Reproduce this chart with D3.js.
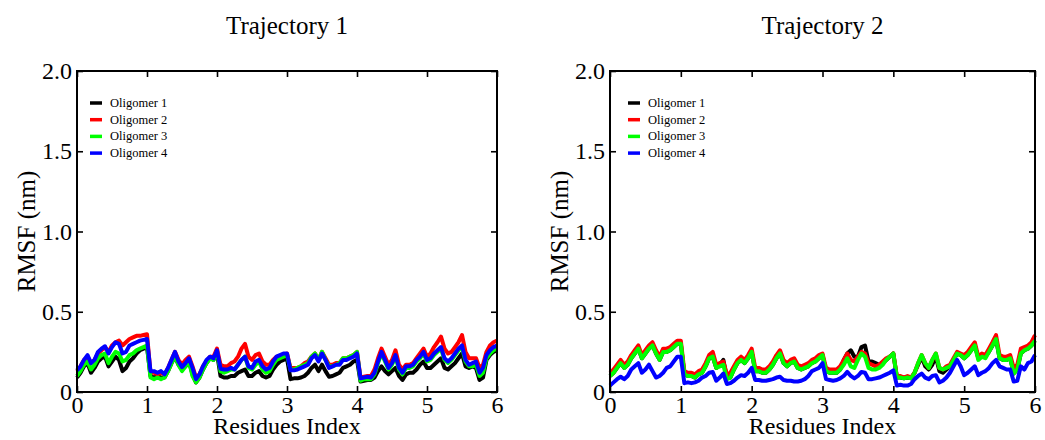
<!DOCTYPE html>
<html>
<head>
<meta charset="utf-8">
<script src="https://cdn.jsdelivr.net/npm/d3@7"></script>
<style>
  body { margin: 0; background: #fff; }
  svg text { font-family: "Liberation Serif", "Times New Roman", serif; fill: #000; }
</style>
</head>
<body>
<div id="chart"></div>
<script>
// Residue index grid (0 .. 6, step 0.05) and tick values
const residues = d3.range(121).map(i => i * 0.05);
const xTicks = [0, 1, 2, 3, 4, 5, 6];
const yTicks = [0, 0.5, 1.0, 1.5, 2.0];
const seriesNames = ["Oligomer 1", "Oligomer 2", "Oligomer 3", "Oligomer 4"];
const seriesColors = ["#000000", "#ff0000", "#00ff00", "#0000ff"];

// Trajectory 1 RMSF (nm)
const traj1Olig1 = [0.09,0.12,0.16,0.18,0.12,0.15,0.19,0.21,0.22,0.16,0.19,0.22,0.20,0.13,0.15,0.19,0.21,0.24,0.26,0.27,0.28,
  0.10,0.09,0.10,0.09,0.09,0.13,0.18,0.22,0.17,0.14,0.16,0.19,0.11,0.06,0.09,0.14,0.18,0.21,0.20,0.24,
  0.10,0.09,0.09,0.10,0.10,0.12,0.13,0.14,0.10,0.10,0.12,0.13,0.10,0.09,0.10,0.14,0.17,0.19,0.20,0.21,
  0.08,0.085,0.085,0.09,0.10,0.12,0.15,0.17,0.13,0.17,0.13,0.095,0.10,0.11,0.12,0.15,0.16,0.17,0.19,0.20,
  0.065,0.07,0.075,0.075,0.09,0.13,0.16,0.13,0.11,0.13,0.15,0.10,0.075,0.11,0.12,0.12,0.14,0.17,0.19,0.15,
  0.15,0.17,0.19,0.21,0.15,0.14,0.16,0.18,0.21,0.24,0.16,0.15,0.16,0.15,0.075,0.09,0.20,0.23,0.25,0.26];
const traj1Olig2 = [0.13,0.16,0.20,0.22,0.18,0.20,0.24,0.26,0.28,0.25,0.29,0.31,0.32,0.29,0.31,0.33,0.34,0.35,0.35,0.355,0.36,
  0.12,0.12,0.11,0.12,0.11,0.15,0.20,0.25,0.20,0.17,0.20,0.22,0.16,0.09,0.11,0.16,0.19,0.22,0.22,0.27,
  0.17,0.16,0.16,0.18,0.19,0.22,0.27,0.30,0.22,0.20,0.23,0.24,0.19,0.17,0.17,0.20,0.22,0.22,0.23,0.24,
  0.15,0.15,0.15,0.16,0.18,0.19,0.22,0.24,0.20,0.25,0.21,0.17,0.17,0.18,0.18,0.21,0.21,0.22,0.23,0.25,
  0.09,0.095,0.10,0.10,0.14,0.21,0.27,0.22,0.17,0.20,0.26,0.17,0.14,0.17,0.17,0.18,0.21,0.24,0.27,0.22,
  0.24,0.28,0.31,0.345,0.27,0.24,0.25,0.28,0.31,0.355,0.25,0.21,0.21,0.21,0.15,0.17,0.25,0.29,0.31,0.32];
const traj1Olig3 = [0.10,0.13,0.17,0.19,0.14,0.17,0.21,0.23,0.24,0.18,0.22,0.25,0.24,0.19,0.20,0.23,0.24,0.26,0.27,0.28,0.29,
  0.09,0.08,0.09,0.08,0.09,0.13,0.18,0.22,0.17,0.13,0.16,0.19,0.10,0.06,0.09,0.14,0.18,0.21,0.20,0.25,
  0.13,0.12,0.13,0.14,0.14,0.17,0.20,0.22,0.15,0.14,0.17,0.19,0.14,0.12,0.13,0.17,0.20,0.21,0.22,0.23,
  0.14,0.14,0.15,0.16,0.17,0.18,0.22,0.24,0.20,0.25,0.20,0.16,0.16,0.17,0.18,0.21,0.21,0.22,0.23,0.25,
  0.07,0.08,0.08,0.08,0.11,0.18,0.24,0.19,0.14,0.17,0.22,0.14,0.11,0.15,0.15,0.16,0.19,0.21,0.24,0.19,
  0.20,0.23,0.25,0.27,0.20,0.18,0.20,0.23,0.26,0.28,0.19,0.16,0.16,0.17,0.10,0.12,0.21,0.24,0.26,0.27];
const traj1Olig4 = [0.135,0.16,0.20,0.23,0.18,0.20,0.25,0.27,0.285,0.24,0.28,0.31,0.30,0.24,0.25,0.29,0.30,0.31,0.32,0.325,0.33,
  0.13,0.13,0.12,0.13,0.11,0.15,0.20,0.25,0.19,0.155,0.18,0.21,0.15,0.08,0.11,0.16,0.20,0.22,0.21,0.26,
  0.145,0.14,0.14,0.15,0.14,0.17,0.20,0.22,0.16,0.15,0.19,0.20,0.16,0.14,0.15,0.19,0.22,0.23,0.24,0.24,
  0.135,0.135,0.14,0.15,0.16,0.17,0.21,0.23,0.19,0.24,0.20,0.15,0.16,0.17,0.17,0.20,0.20,0.21,0.22,0.24,
  0.085,0.09,0.095,0.09,0.12,0.19,0.25,0.20,0.15,0.18,0.23,0.15,0.12,0.16,0.16,0.17,0.20,0.22,0.25,0.20,
  0.21,0.24,0.26,0.28,0.21,0.19,0.21,0.24,0.27,0.29,0.20,0.17,0.18,0.19,0.12,0.15,0.23,0.26,0.28,0.29];

// Trajectory 2 RMSF (nm)
const traj2Olig1 = [0.10,0.12,0.15,0.18,0.15,0.17,0.21,0.24,0.27,0.21,0.24,0.27,0.29,0.24,0.20,0.25,0.25,0.26,0.28,0.30,0.30,
  0.11,0.10,0.10,0.09,0.11,0.12,0.16,0.21,0.22,0.15,0.17,0.20,0.09,0.09,0.14,0.18,0.20,0.18,0.21,0.25,
  0.13,0.13,0.12,0.12,0.14,0.17,0.21,0.24,0.18,0.16,0.18,0.19,0.15,0.14,0.15,0.16,0.18,0.19,0.21,0.23,
  0.13,0.12,0.12,0.12,0.14,0.20,0.24,0.26,0.22,0.22,0.28,0.29,0.19,0.19,0.18,0.17,0.18,0.20,0.22,0.24,
  0.09,0.09,0.085,0.09,0.085,0.12,0.17,0.22,0.16,0.14,0.17,0.22,0.13,0.12,0.14,0.16,0.20,0.24,0.23,0.21,
  0.23,0.26,0.29,0.21,0.22,0.22,0.25,0.29,0.33,0.21,0.20,0.20,0.21,0.115,0.14,0.24,0.26,0.27,0.29,0.32];
const traj2Olig2 = [0.12,0.14,0.17,0.20,0.17,0.19,0.23,0.26,0.29,0.23,0.26,0.29,0.31,0.26,0.22,0.27,0.27,0.28,0.30,0.32,0.32,
  0.13,0.12,0.12,0.11,0.13,0.14,0.18,0.23,0.25,0.17,0.18,0.19,0.11,0.12,0.16,0.20,0.22,0.20,0.23,0.27,
  0.15,0.15,0.14,0.14,0.16,0.19,0.23,0.26,0.20,0.18,0.20,0.21,0.17,0.16,0.17,0.18,0.20,0.21,0.23,0.24,
  0.15,0.14,0.14,0.14,0.16,0.20,0.24,0.20,0.19,0.22,0.25,0.24,0.18,0.17,0.16,0.17,0.19,0.21,0.22,0.24,
  0.10,0.10,0.09,0.10,0.09,0.12,0.18,0.23,0.18,0.15,0.20,0.24,0.15,0.14,0.16,0.17,0.21,0.25,0.24,0.23,
  0.25,0.28,0.31,0.22,0.24,0.23,0.27,0.31,0.355,0.23,0.22,0.22,0.23,0.15,0.17,0.27,0.28,0.29,0.31,0.355];
const traj2Olig3 = [0.10,0.12,0.15,0.18,0.15,0.17,0.21,0.24,0.27,0.21,0.24,0.27,0.29,0.24,0.20,0.25,0.25,0.26,0.28,0.30,0.30,
  0.11,0.10,0.10,0.09,0.11,0.12,0.16,0.21,0.22,0.15,0.16,0.17,0.08,0.09,0.14,0.18,0.20,0.18,0.21,0.25,
  0.13,0.13,0.12,0.12,0.14,0.17,0.21,0.24,0.18,0.16,0.18,0.19,0.15,0.14,0.15,0.16,0.18,0.19,0.21,0.23,
  0.13,0.12,0.12,0.12,0.14,0.17,0.21,0.16,0.15,0.20,0.24,0.22,0.15,0.14,0.14,0.15,0.17,0.20,0.22,0.24,
  0.09,0.09,0.085,0.09,0.085,0.12,0.18,0.23,0.18,0.15,0.20,0.24,0.15,0.14,0.15,0.16,0.20,0.24,0.23,0.21,
  0.23,0.26,0.29,0.20,0.22,0.21,0.25,0.29,0.33,0.21,0.20,0.20,0.21,0.115,0.14,0.24,0.26,0.27,0.29,0.32];
const traj2Olig4 = [0.04,0.06,0.08,0.095,0.08,0.10,0.14,0.16,0.18,0.12,0.14,0.17,0.13,0.09,0.10,0.12,0.15,0.16,0.19,0.22,0.22,
  0.055,0.06,0.055,0.06,0.07,0.09,0.10,0.12,0.125,0.07,0.09,0.115,0.05,0.055,0.07,0.09,0.105,0.10,0.12,0.15,
  0.075,0.075,0.07,0.07,0.075,0.08,0.09,0.095,0.075,0.07,0.07,0.065,0.065,0.07,0.08,0.10,0.13,0.14,0.15,0.18,
  0.08,0.075,0.07,0.075,0.085,0.10,0.125,0.10,0.085,0.10,0.125,0.12,0.08,0.08,0.085,0.09,0.10,0.11,0.12,0.135,
  0.04,0.045,0.04,0.04,0.05,0.08,0.10,0.115,0.09,0.08,0.10,0.105,0.06,0.07,0.09,0.12,0.16,0.20,0.16,0.105,
  0.12,0.14,0.16,0.105,0.12,0.13,0.15,0.18,0.20,0.16,0.15,0.14,0.14,0.065,0.07,0.16,0.14,0.18,0.19,0.23];

const width = 1045;
const height = 440;

const svg = d3.select("#chart")
  .append("svg")
    .attr("width", width)
    .attr("height", height);

// Draw one panel: frame, inward ticks on all sides, lines and legend
function drawPanel(left, right, title, series, legendX) {
  const top = 71, bottom = 392;
  const x = d3.scaleLinear().domain([0, 6]).range([left, right]);
  const y = d3.scaleLinear().domain([0, 2]).range([bottom, top]);

  const g = svg.append("g");

  // lines
  const line = d3.line()
    .x((d, i) => x(residues[i]))
    .y(d => y(d));

  series.forEach((values, k) => {
    g.append("path")
      .datum(values)
      .attr("fill", "none")
      .attr("stroke", seriesColors[k])
      .attr("stroke-width", 4)
      .attr("stroke-linejoin", "round")
      .attr("d", line);
  });

  // axes with inward ticks
  const fmtY = d => d === 0 ? "0" : d3.format(".1f")(d);
  const axes = [
    g.append("g").attr("transform", `translate(0,${bottom})`)
      .call(d3.axisBottom(x).tickValues(xTicks).tickSize(-6).tickPadding(4).tickFormat(d3.format("d"))),
    g.append("g").attr("transform", `translate(0,${top})`)
      .call(d3.axisTop(x).tickValues(xTicks).tickSize(-6).tickFormat("")),
    g.append("g").attr("transform", `translate(${left},0)`)
      .call(d3.axisLeft(y).tickValues(yTicks).tickSize(-6).tickPadding(5).tickFormat(fmtY)),
    g.append("g").attr("transform", `translate(${right},0)`)
      .call(d3.axisRight(y).tickValues(yTicks).tickSize(-6).tickFormat(""))
  ];
  axes.forEach(a => {
    a.select(".domain").remove();
    a.selectAll(".tick line").attr("stroke", "#000").attr("stroke-width", 1.6);
    a.selectAll(".tick text")
      .style("font-family", '"Liberation Serif", "Times New Roman", serif')
      .style("font-size", "24px")
      .attr("fill", "#000");
  });

  // frame
  g.append("rect")
    .attr("x", left)
    .attr("y", top)
    .attr("width", right - left)
    .attr("height", bottom - top)
    .attr("fill", "none")
    .attr("stroke", "#000")
    .attr("stroke-width", 2);

  // title and axis labels
  g.append("text")
    .attr("x", (left + right) / 2)
    .attr("y", 34)
    .attr("text-anchor", "middle")
    .style("font-size", "25px")
    .text(title);

  g.append("text")
    .attr("x", (left + right) / 2)
    .attr("y", 434)
    .attr("text-anchor", "middle")
    .style("font-size", "24px")
    .text("Residues Index");

  g.append("text")
    .attr("transform", `translate(${left - 42},${(top + bottom) / 2}) rotate(-90)`)
    .attr("text-anchor", "middle")
    .style("font-size", "25px")
    .text("RMSF (nm)");

  // legend
  const legend = g.append("g").attr("transform", `translate(${legendX},103)`);
  seriesNames.forEach((name, k) => {
    const row = legend.append("g").attr("transform", `translate(0,${k * 16.7})`);
    row.append("line")
      .attr("x1", 0).attr("x2", 12)
      .attr("y1", 0).attr("y2", 0)
      .attr("stroke", seriesColors[k])
      .attr("stroke-width", 3.5);
    row.append("text")
      .attr("x", 20)
      .attr("y", 4)
      .style("font-size", "12.5px")
      .text(name);
  });
}

drawPanel(77, 497, "Trajectory 1", [traj1Olig1, traj1Olig2, traj1Olig3, traj1Olig4], 90);
drawPanel(610, 1035, "Trajectory 2", [traj2Olig1, traj2Olig2, traj2Olig3, traj2Olig4], 628);
</script>
</body>
</html>
